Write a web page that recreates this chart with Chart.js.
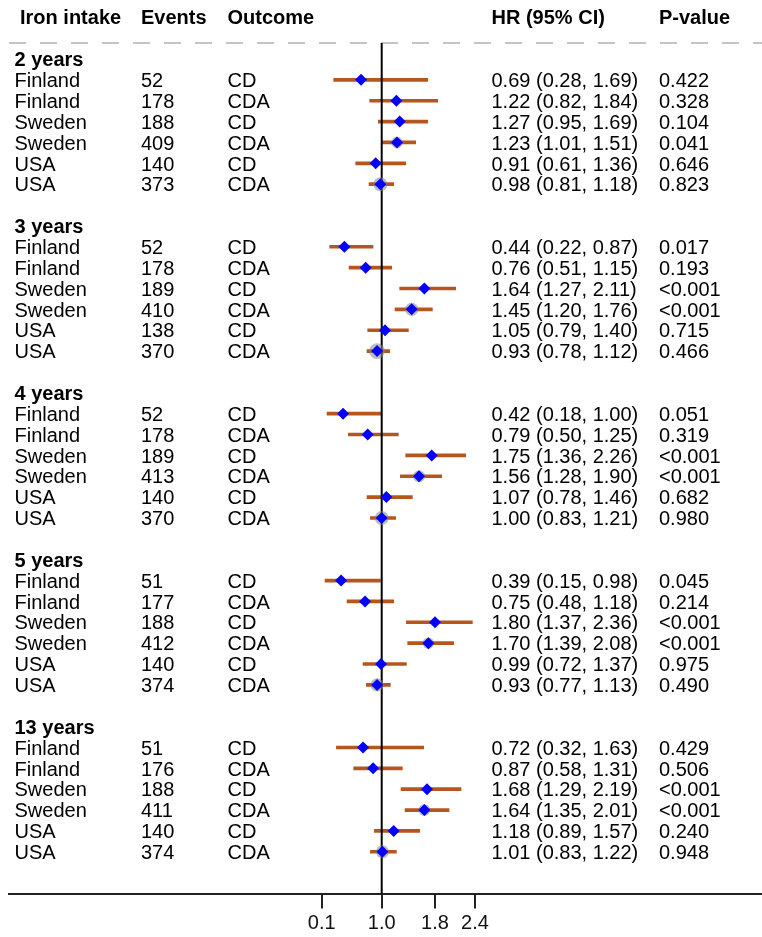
<!DOCTYPE html>
<html>
<head>
<meta charset="utf-8">
<title>Iron intake and celiac disease: hazard ratios</title>
<script src="https://cdn.jsdelivr.net/npm/chart.js@4.4.1/dist/chart.umd.min.js"></script>
<style>
  html, body { margin: 0; padding: 0; background: #ffffff; }
  canvas { display: block; }
</style>
</head>
<body>
<canvas id="forest" width="762" height="937"></canvas>
<script>
// ---- data ----
const columnHeaders = ['Iron intake', 'Events', 'Outcome', 'HR (95% CI)', 'P-value'];
const periods = ['2 years', '3 years', '4 years', '5 years', '13 years'];
const cohorts = ['Finland', 'Finland', 'Sweden', 'Sweden', 'USA', 'USA'];
const outcomes = ['CD', 'CDA', 'CD', 'CDA', 'CD', 'CDA'];

const events = [
  [52, 178, 188, 409, 140, 373],
  [52, 178, 189, 410, 138, 370],
  [52, 178, 189, 413, 140, 370],
  [51, 177, 188, 412, 140, 374],
  [51, 176, 188, 411, 140, 374]
];
const hr = [
  [0.69, 1.22, 1.27, 1.23, 0.91, 0.98],
  [0.44, 0.76, 1.64, 1.45, 1.05, 0.93],
  [0.42, 0.79, 1.75, 1.56, 1.07, 1.00],
  [0.39, 0.75, 1.80, 1.70, 0.99, 0.93],
  [0.72, 0.87, 1.68, 1.64, 1.18, 1.01]
];
const ciLow = [
  [0.28, 0.82, 0.95, 1.01, 0.61, 0.81],
  [0.22, 0.51, 1.27, 1.20, 0.79, 0.78],
  [0.18, 0.50, 1.36, 1.28, 0.78, 0.83],
  [0.15, 0.48, 1.37, 1.39, 0.72, 0.77],
  [0.32, 0.58, 1.29, 1.35, 0.89, 0.83]
];
const ciHigh = [
  [1.69, 1.84, 1.69, 1.51, 1.36, 1.18],
  [0.87, 1.15, 2.11, 1.76, 1.40, 1.12],
  [1.00, 1.25, 2.26, 1.90, 1.46, 1.21],
  [0.98, 1.18, 2.36, 2.08, 1.37, 1.13],
  [1.63, 1.31, 2.19, 2.01, 1.57, 1.22]
];
const pValues = [
  ['0.422', '0.328', '0.104', '0.041', '0.646', '0.823'],
  ['0.017', '0.193', '<0.001', '<0.001', '0.715', '0.466'],
  ['0.051', '0.319', '<0.001', '<0.001', '0.682', '0.980'],
  ['0.045', '0.214', '<0.001', '<0.001', '0.975', '0.490'],
  ['0.429', '0.506', '<0.001', '<0.001', '0.240', '0.948']
];
const xTicks = [0.1, 1.0, 1.8, 2.4];
const referenceValue = 1.0;

// ---- layout ----
const FONT = '"Liberation Sans", Arial, Helvetica, sans-serif';
const ROWS_PER_GROUP = 8;           // period title, six estimates, one blank row
const HEADER_ROW = -2;
const headerX = [20, 141, 227.5, 491.5, 659];
const bodyX = [14.5, 141, 227.5, 491.5, 659];
const TEXT_BASELINE_SHIFT = 7.2;

const CI_COLOR = '#b5561f';
const POINT_COLOR = '#0000ff';
const HALO_COLOR = 'rgba(135,135,135,0.55)';

// one entry per estimate, with its row on the vertical scale
const rows = [];
periods.forEach((p, g) => {
  cohorts.forEach((c, k) => {
    rows.push({ g, k, row: g * ROWS_PER_GROUP + 1 + k });
  });
});

// precision halo: grows as the confidence interval narrows (log scale)
function haloRadius(r) {
  const w = Math.log(ciHigh[r.g][r.k] / ciLow[r.g][r.k]);
  return 8 * Math.pow(0.36 / w, 3);
}

const ciData = rows.map(r => ({ x: [ciLow[r.g][r.k], ciHigh[r.g][r.k]], y: r.row }));
const pointData = rows.map(r => ({ x: hr[r.g][r.k], y: r.row }));

// dashed rule under the column headers and the vertical line at HR = 1
const guidesPlugin = {
  id: 'guides',
  beforeDatasetsDraw(chart) {
    const { ctx, chartArea } = chart;
    ctx.save();
    ctx.strokeStyle = '#c4c4c4';
    ctx.lineWidth = 2;
    ctx.setLineDash([17, 14]);
    ctx.beginPath();
    ctx.moveTo(9, chartArea.top);
    ctx.lineTo(chart.width, chartArea.top);
    ctx.stroke();
    ctx.restore();
  },
  afterDatasetDraw(chart, args) {
    if (args.index !== 0) return;
    const { ctx, chartArea } = chart;
    const x = chart.scales.x.getPixelForValue(referenceValue);
    ctx.save();
    ctx.strokeStyle = '#000000';
    ctx.lineWidth = 2;
    ctx.beginPath();
    ctx.moveTo(x, chartArea.top);
    ctx.lineTo(x, chartArea.bottom);
    ctx.stroke();
    ctx.restore();
  }
};

// table columns on both sides of the plot
const tablePlugin = {
  id: 'table',
  afterDraw(chart) {
    const ctx = chart.ctx;
    const yScale = chart.scales.y;
    const baseline = row => yScale.getPixelForValue(row) + TEXT_BASELINE_SHIFT;
    ctx.save();
    ctx.fillStyle = '#000000';
    ctx.textAlign = 'left';
    ctx.textBaseline = 'alphabetic';

    ctx.font = 'bold 20px ' + FONT;
    columnHeaders.forEach((h, i) => ctx.fillText(h, headerX[i], baseline(HEADER_ROW)));
    periods.forEach((p, g) => ctx.fillText(p, bodyX[0], baseline(g * ROWS_PER_GROUP)));

    ctx.font = '20px ' + FONT;
    rows.forEach(r => {
      const y = baseline(r.row);
      const hrText = hr[r.g][r.k].toFixed(2) + ' (' + ciLow[r.g][r.k].toFixed(2) + ', ' + ciHigh[r.g][r.k].toFixed(2) + ')';
      ctx.fillText(cohorts[r.k], bodyX[0], y);
      ctx.fillText(String(events[r.g][r.k]), bodyX[1], y);
      ctx.fillText(outcomes[r.k], bodyX[2], y);
      ctx.fillText(hrText, bodyX[3], y);
      ctx.fillText(pValues[r.g][r.k], bodyX[4], y);
    });
    ctx.restore();
  }
};

const lastRow = (periods.length - 1) * ROWS_PER_GROUP + cohorts.length;

new Chart(document.getElementById('forest'), {
  type: 'scatter',
  data: {
    datasets: [
      {
        type: 'bar',
        indexAxis: 'y',
        data: ciData,
        backgroundColor: CI_COLOR,
        borderWidth: 0,
        barThickness: 3,
        order: 3
      },
      {
        type: 'scatter',
        data: pointData,
        pointStyle: 'circle',
        pointRadius: ctx => haloRadius(rows[ctx.dataIndex]),
        backgroundColor: HALO_COLOR,
        borderWidth: 0,
        order: 2
      },
      {
        type: 'scatter',
        data: pointData,
        pointStyle: 'rectRot',
        pointRadius: 6,
        backgroundColor: POINT_COLOR,
        borderColor: POINT_COLOR,
        borderWidth: 0,
        order: 1
      }
    ]
  },
  options: {
    responsive: false,
    animation: false,
    devicePixelRatio: 1,
    layout: { autoPadding: false, padding: { top: 43, left: 9, right: 0, bottom: 0 } },
    plugins: { legend: { display: false }, tooltip: { enabled: false } },
    scales: {
      x: {
        type: 'linear',
        min: -4.592,
        max: 6.706,
        position: 'bottom',
        afterBuildTicks: scale => { scale.ticks = xTicks.map(v => ({ value: v })); },
        afterFit: scale => { scale.height = 43.5; },
        grid: { drawOnChartArea: false, drawTicks: true, tickLength: 15, color: '#222222', lineWidth: 2 },
        border: { display: true, color: '#222222', width: 2 },
        ticks: {
          font: { family: FONT, size: 20 },
          color: '#111111',
          padding: 3,
          maxRotation: 0,
          autoSkip: false,
          callback: v => Number(v).toFixed(1)
        }
      },
      y: {
        type: 'linear',
        reverse: true,
        offset: false,
        min: -0.767,
        max: lastRow + 2,
        display: false
      }
    }
  },
  plugins: [guidesPlugin, tablePlugin]
});
</script>
</body>
</html>
